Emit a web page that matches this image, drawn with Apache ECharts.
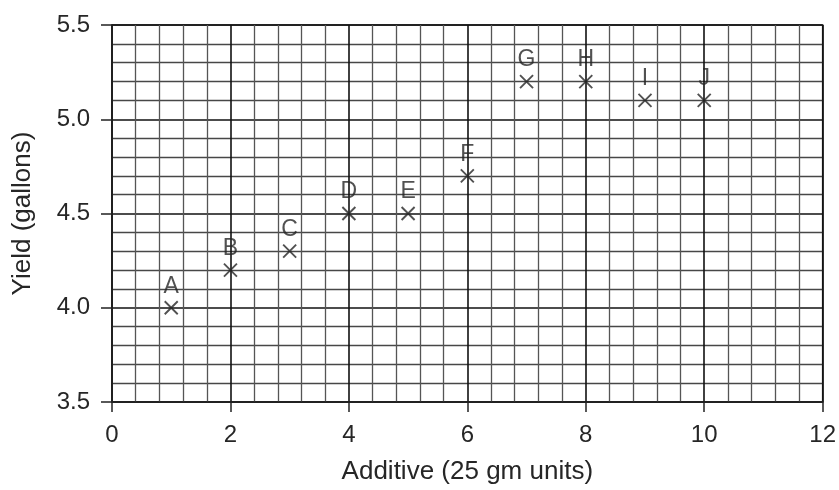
<!DOCTYPE html>
<html>
<head>
<meta charset="utf-8">
<script src="https://cdn.jsdelivr.net/npm/echarts@6/dist/echarts.min.js"></script>
<style>
  html, body { margin: 0; padding: 0; background: #fff; }
  #chart { width: 839px; height: 490px; }
</style>
</head>
<body>
<div id="chart"></div>
<script>
// point labels, additive amount, yield
const pointNames = ["A", "B", "C", "D", "E", "F", "G", "H", "I", "J"];
const additive = [1, 2, 3, 4, 5, 6, 7, 8, 9, 10];
const yieldGallons = [4.0, 4.2, 4.3, 4.5, 4.5, 4.7, 5.2, 5.2, 5.1, 5.1];

const xTicks = [0, 2, 4, 6, 8, 10, 12];
const yTicks = [3.5, 4.0, 4.5, 5.0, 5.5];

const chart = echarts.init(document.getElementById("chart"), null, { renderer: "canvas" });

const font = "Liberation Sans, Arial, sans-serif";
const textColor = "#262626";

const points = additive.map((x, i) => [x, yieldGallons[i], pointNames[i]]);

chart.setOption({
  backgroundColor: "#fff",
  animation: false,
  grid: {
    left: 112,
    right: 16,
    top: 25,
    bottom: 85,
    show: true,
    borderColor: "#222",
    borderWidth: 1.5,
  },
  xAxis: {
    type: "value",
    min: xTicks[0],
    max: xTicks[xTicks.length - 1],
    interval: 2,
    name: "Additive (25 gm units)",
    nameLocation: "middle",
    nameGap: 57,
    nameTextStyle: { color: textColor, fontSize: 26, fontFamily: font },
    axisLine: { show: true, lineStyle: { color: "#222", width: 1.5 } },
    axisTick: { show: true, length: 10, lineStyle: { color: "#222", width: 1.5 } },
    axisLabel: {
      margin: 21,
      color: textColor,
      fontSize: 24,
      fontFamily: font,
    },
    splitLine: { show: true, lineStyle: { color: "#111", width: 1.6 } },
    minorTick: { show: false, splitNumber: 5 },
    minorSplitLine: { show: true, lineStyle: { color: "#555", width: 1.3 } },
  },
  yAxis: {
    type: "value",
    min: yTicks[0],
    max: yTicks[yTicks.length - 1],
    interval: 0.5,
    name: "Yield (gallons)",
    nameLocation: "middle",
    nameGap: 76,
    nameTextStyle: { color: textColor, fontSize: 26, fontFamily: font },
    axisLine: { show: true, lineStyle: { color: "#222", width: 1.5 } },
    axisTick: { show: true, length: 11, lineStyle: { color: "#222", width: 1.5 } },
    axisLabel: {
      margin: 22,
      color: textColor,
      fontSize: 24,
      fontFamily: font,
      formatter: (v) => v.toFixed(1),
    },
    splitLine: { show: true, lineStyle: { color: "#111", width: 1.6 } },
    minorTick: { show: false, splitNumber: 5 },
    minorSplitLine: { show: true, lineStyle: { color: "#474747", width: 1.3 } },
  },
  series: [
    {
      type: "scatter",
      data: points,
      symbol: "path://M0,0L10,10M10,0L0,10",
      symbolSize: 13,
      itemStyle: { color: "none", borderColor: "#262626", borderWidth: 1.9 },
      label: {
        show: true,
        position: "top",
        distance: 1,
        color: textColor,
        fontSize: 23,
        fontFamily: font,
        formatter: (p) => p.data[2],
      },
      z: 5,
    },
  ],
});
</script>
</body>
</html>
